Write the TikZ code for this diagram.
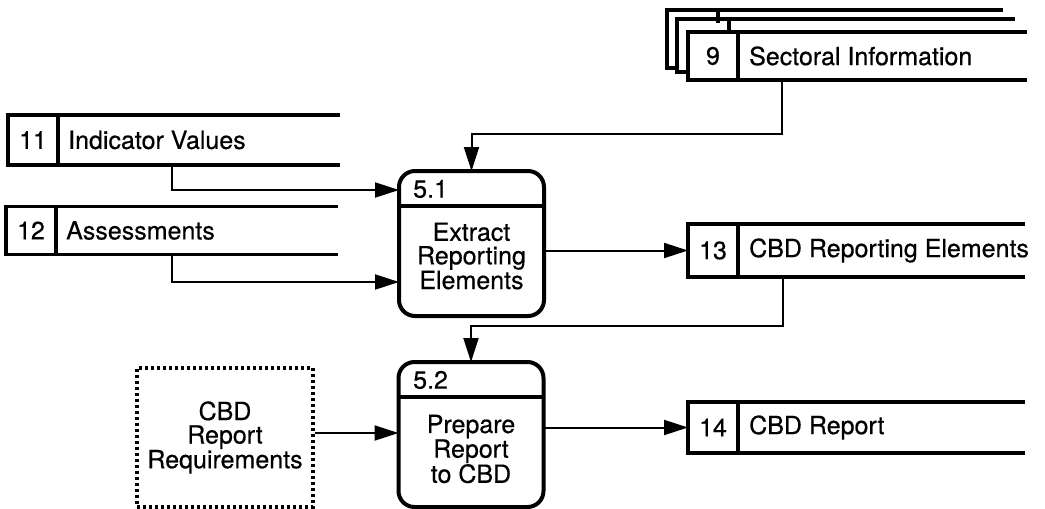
\documentclass[tikz,border=0pt]{standalone}
\usepackage{fontspec}
\setmainfont{TeX Gyre Heros}
\newfontfamily\dfdfont[FakeBold=0.5]{TeX Gyre Heros}
\usetikzlibrary{positioning,arrows.meta}

\tikzset{
	cell/.style={draw, line width=3.5pt, inner sep=0pt, outer sep=0pt, minimum width=50pt},
	store/.style={line width=3.5pt},
	stext/.style={inner sep=0pt},
	proc/.style={draw, line width=4pt, rounded corners=16pt, outer sep=0pt, minimum width=145pt, minimum height=145pt},
	divline/.style={line width=3.5pt},
	pnum/.style={inner sep=0pt, anchor=west},
	ptext/.style={align=center, inner sep=0pt},
	ext/.style={draw, line width=3.5pt, dash pattern={on 3pt off 3pt}, minimum width=176pt, minimum height=139pt, align=center},
	flow/.style={line width=2pt, -{Triangle[length=24pt, width=15pt]}},
}

\begin{document}
\begin{tikzpicture}[x=1pt, y=-1pt, font=\dfdfont\fontsize{25}{23.5}\selectfont]
	\useasboundingbox (0,0) rectangle (1045,509);

%stores
	\node[cell, minimum height=48pt] (s9) at (713,56) {9};
	\node[cell, minimum height=50pt] (s11) at (33,140) {11};
	\node[cell, minimum height=48pt] (s12) at (31,230.5) {12};
	\node[cell, minimum height=53pt] (s13) at (713,250.5) {13};
	\node[cell, minimum height=51pt] (s14) at (713,427.5) {14};

	\foreach \s/\len in {s9/339, s11/332, s12/332, s13/337, s14/337}{
		\draw[store] (\s.north west) -- ++(\len,0);
		\draw[store] (\s.south west) -- ++(\len,0);
	}

	\node[stext, right=11pt of s9] (l9) {Sectoral Information};
	\node[stext, right=10pt of s11] (l11) {Indicator Values};
	\node[stext, right=10pt of s12] (l12) {Assessments};
	\node[stext, right=11pt of s13] (l13) {CBD Reporting Elements};
	\node[stext, right=11pt of s14] (l14) {CBD Report};

%copies of 9 behind
	\foreach \lx/\ty/\by/\rx/\dx/\nx in {667/10/68/1003/718/677, 677/19/72/1015/729/688}{
		\draw[store] (\nx,\by) -- (\lx,\by) -- (\lx,\ty) -- (\rx,\ty);
		\draw[store] (\dx,\ty) -- (\dx,\ty+13);
	}

%processes
	\node[proc] (p51) at (471.5,243.5) {};
	\draw[divline] (p51.west |- 0,206) -- (p51.east |- 0,206);
	\node[pnum] (n51) at (413,189) {5.1};
	\node[ptext] (t51) at (471.5,256) {Extract\\Reporting\\Elements};

	\node[proc] (p52) at (471,434.5) {};
	\draw[divline] (p52.west |- 0,397) -- (p52.east |- 0,397);
	\node[pnum] (n52) at (413,380) {5.2};
	\node[ptext] (t52) at (471,449) {Prepare\\Report\\to CBD};

%external
	\node[ext] (req) at (225,437.5) {CBD\\Report\\Requirements};

%flows
	\coordinate (o9) at (782,80);
	\coordinate (o11) at (172,165);
	\coordinate (o12) at (172,254.5);
	\coordinate (o13) at (783,277);

	\draw[flow] (o9) |- (p51.north |- 0,134) -- (p51.north);
	\draw[flow] (o11) |- (p51.west |- 0,190);
	\draw[flow] (o12) |- (p51.west |- 0,282);
	\draw[flow] (p51.east |- s13.west) -- (s13.west);
	\draw[flow] (o13) |- (p52.north |- 0,326) -- (p52.north);
	\draw[flow] (req.east |- 0,433) -- (p52.west |- 0,433);
	\draw[flow] (p52.east |- s14.west) -- (s14.west);

\end{tikzpicture}
\end{document}
